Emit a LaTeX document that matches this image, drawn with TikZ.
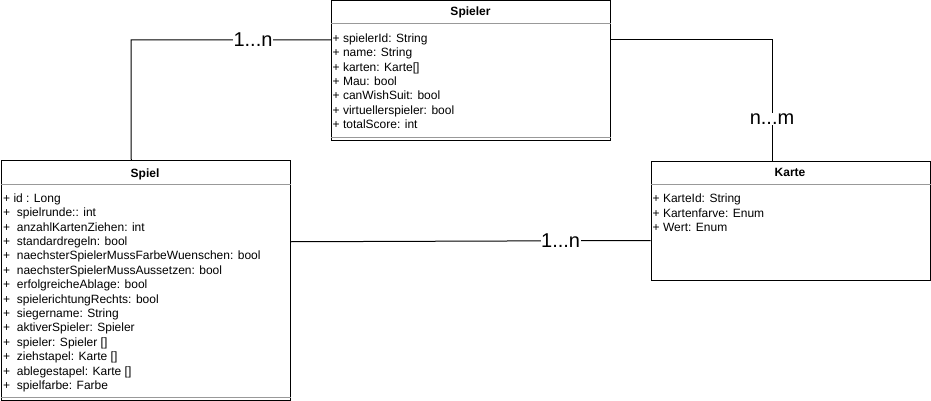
\documentclass[tikz,border=0pt]{standalone}
\usepackage{fontspec}
\setmainfont{Liberation Sans}
\begin{document}
\begin{tikzpicture}[x=1pt,y=-1pt,
  box/.style={draw=black,line width=1pt,rectangle,inner sep=0,anchor=north west},
  sep/.style={draw=black!40,line width=1pt},
  title/.style={font=\fontsize{12}{14}\selectfont\bfseries,anchor=base,inner sep=0},
  attrs/.style={font=\fontsize{12}{14.4}\selectfont,align=left,anchor=north west,inner sep=0},
  conn/.style={draw=black,line width=1pt},
  mult/.style={font=\fontsize{20}{22}\selectfont,fill=white,inner sep=0.5pt}]
\useasboundingbox (0,0) rectangle (931,401);
% boxes
\node[box,minimum width=279pt,minimum height=139.5pt] (spieler) at (331,0.5) {};
\node[box,minimum width=289.5pt,minimum height=239.5pt] (spiel) at (0.5,160) {};
\node[box,minimum width=279.5pt,minimum height=119pt] (karte) at (650.5,161) {};
% separators
\draw[sep] (spieler.west |- 0,24) -- (spieler.east |- 0,24);
\draw[sep] (spieler.west |- 0,137) -- (spieler.east |- 0,137);
\draw[sep] (spiel.west |- 0,184) -- (spiel.east |- 0,184);
\draw[sep] (spiel.west |- 0,397) -- (spiel.east |- 0,397);
\draw[sep] (karte.west |- 0,184) -- (karte.east |- 0,184);
% titles
\node[title] (spielerT) at (470.5,16) {Spieler};
\node[title] (spielT) at (145,177) {Spiel};
\node[title] (karteT) at (790,176) {Karte};
% attributes
\node[attrs] (spielerA) at (332.5,32) {\strut+ spielerId: String\\+ name: String\\+ karten: Karte[]\\+ Mau: bool\\+ canWishSuit: bool\\+ virtuellerspieler: bool\\+ totalScore: int};
\node[attrs] (spielA) at (3,192) {\strut+ id : Long\\+\ \ spielrunde:: int\\+\ \ anzahlKartenZiehen: int\\+\ \ standardregeln: bool\\+\ \ naechsterSpielerMussFarbeWuenschen: bool\\+\ \ naechsterSpielerMussAussetzen: bool\\+\ \ erfolgreicheAblage: bool\\+\ \ spielerichtungRechts: bool\\+\ \ siegername: String\\+\ \ aktiverSpieler: Spieler\\+\ \ spieler: Spieler []\\+\ \ ziehstapel: Karte []\\+\ \ ablegestapel: Karte []\\+\ \ spielfarbe: Farbe};
\node[attrs] (karteA) at (652.5,192.5) {\strut+ KarteId: String\\+ Kartenfarve: Enum\\+ Wert: Enum};
% connectors
\coordinate (c1) at (131,40);
\coordinate (c2) at (772,40);
\draw[conn] ([xshift=-14.5pt]spiel.north) -- (c1) -- node[mult,pos=0.61] (m1) {1...n} (spieler.west |- c1);
\draw[conn] (spieler.east |- c2) -- (c2) -- node[mult,pos=0.65] (m2) {n...m} (c2 |- karte.north);
\draw[conn] ([yshift=38.5pt]spiel.east) -- node[mult,pos=0.75] (m3) {1...n} ([yshift=-19.5pt]karte.west);
\end{tikzpicture}
\end{document}
